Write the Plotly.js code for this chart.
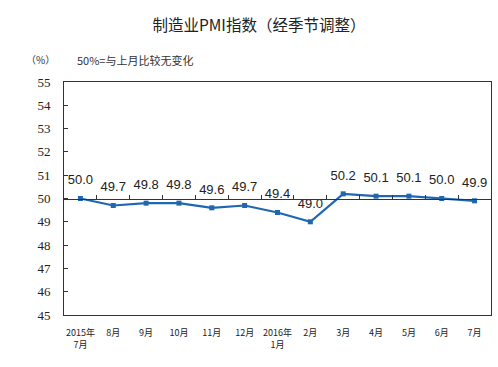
<!DOCTYPE html>
<html><head><meta charset="utf-8">
<script src="https://cdn.plot.ly/plotly-3.0.1.min.js"></script>
<style>body{margin:0;background:#fff}#c{width:498px;height:367px}</style>
</head><body><div id="c"></div>
<script>
const tickLabels = ["2015年<br>7月","8月","9月","10月","11月","12月","2016年<br>1月","2月","3月","4月","5月","6月","7月"];
const pmi = [50.0, 49.7, 49.8, 49.8, 49.6, 49.7, 49.4, 49.0, 50.2, 50.1, 50.1, 50.0, 49.9];
const yTicks = [45,46,47,48,49,50,51,52,53,54,55];

const idx = pmi.map((_, i) => i);
const bounds = idx.slice(1).map(i => i - 0.5);

const lineTrace = {
  x: idx, y: pmi, type: 'scatter', mode: 'lines+markers',
  line: {color: '#1f67b1', width: 2.2},
  marker: {symbol: 'square', size: 5, color: '#1f67b1'},
  hoverinfo: 'skip', showlegend: false
};
const labelTrace = {
  x: idx, y: pmi, type: 'scatter', mode: 'markers+text',
  marker: {size: 16, opacity: 0},
  text: pmi.map(v => v.toFixed(1)),
  textposition: 'top center',
  textfont: {family: 'Liberation Sans, Arial', size: 13, color: '#222'},
  cliponaxis: false, hoverinfo: 'skip', showlegend: false
};
const dummy = {x: [0], y: [50], xaxis: 'x2', mode: 'markers', marker: {opacity: 0}, showlegend: false, hoverinfo: 'skip'};

const layout = {
  width: 498, height: 367,
  margin: {l: 64, r: 7, t: 82, b: 52},
  paper_bgcolor: '#fff', plot_bgcolor: '#fff',
  title: {text: '制造业PMI指数（经季节调整）', x: 0.52, xanchor: 'center', y: 0.93, yanchor: 'middle',
          font: {family: 'Noto Sans CJK SC', size: 15.5, color: '#222'}},
  xaxis: {
    range: [-0.5, 12.5], tickvals: idx, ticktext: tickLabels,
    showline: true, linecolor: '#333', linewidth: 1, mirror: true,
    ticks: '', showgrid: false, zeroline: false, ticklabelstandoff: 9,
    tickfont: {family: 'Noto Sans CJK SC', size: 9, color: '#222'}
  },
  xaxis2: {
    overlaying: 'x', anchor: 'free', position: 0.5, side: 'bottom',
    range: [-0.5, 12.5], tickvals: bounds, showticklabels: false,
    ticks: 'inside', ticklen: 4, tickcolor: '#333', showline: true, linecolor: '#333', linewidth: 1,
    showgrid: false, zeroline: false
  },
  yaxis: {
    range: [45, 55], tickvals: yTicks, ticks: 'inside', ticklen: 4, tickcolor: '#333',
    showline: true, linecolor: '#333', linewidth: 1, mirror: true,
    showgrid: false, zeroline: false, ticklabelstandoff: 10,
    tickfont: {family: 'Liberation Serif, Times New Roman', size: 13, color: '#222'}
  },
  annotations: [
    {text: '（%）', xref: 'paper', yref: 'paper', x: -0.055, y: 1.095, xanchor: 'center', yanchor: 'middle', showarrow: false,
     font: {family: 'Noto Sans CJK SC', size: 10, color: '#333'}},
    {text: '50%=与上月比较无变化', xref: 'paper', yref: 'paper', x: 0.025, y: 1.095, xanchor: 'left', yanchor: 'middle', showarrow: false,
     font: {family: 'Noto Sans CJK SC', size: 11, color: '#333'}}
  ]
};
Plotly.newPlot('c', [lineTrace, labelTrace, dummy], layout, {staticPlot: true, displayModeBar: false});
</script></body></html>
